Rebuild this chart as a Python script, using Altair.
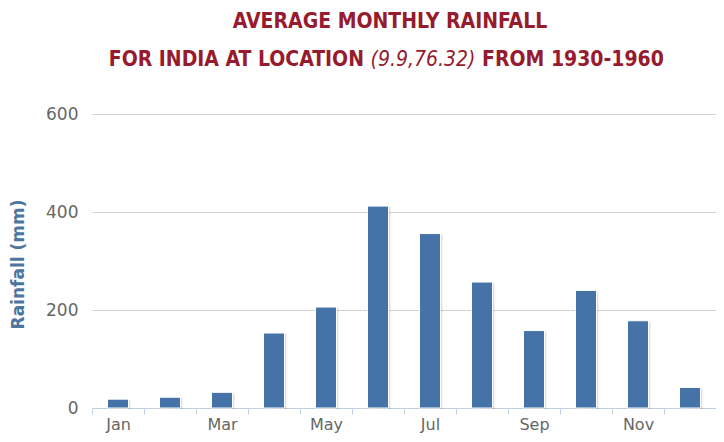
import altair as alt
import pandas as pd

months = ["Jan", "Feb", "Mar", "Apr", "May", "Jun", "Jul", "Aug", "Sep", "Oct", "Nov", "Dec"]
rainfall = [18, 22, 32, 153, 206, 412, 356, 257, 158, 240, 178, 42]
y_ticks = [0, 200, 400, 600]
shown_labels = ["Jan", "Mar", "May", "Jul", "Sep", "Nov"]

title_line1 = "AVERAGE MONTHLY RAINFALL"
title_line2_a = "FOR INDIA AT LOCATION"
title_line2_b = "(9.9,76.32)"
title_line2_c = "FROM 1930-1960"

df = pd.DataFrame({"month": months, "rain": rainfall})

W, H = 624, 294
TITLE_COLOR = "#971A2E"
TFONT = "DejaVu Sans Condensed, Roboto Condensed, Liberation Sans Narrow, Roboto"

x_enc = alt.X(
    "month:N", sort=months, title=None,
    scale=alt.Scale(paddingInner=0, paddingOuter=0),
    axis=alt.Axis(
        tickBand="extent", labelAngle=0,
        labelExpr="indexof(" + str(shown_labels) + ", datum.value) >= 0 ? datum.label : ''",
        domainColor="#C0D0E0", tickColor="#C0D0E0", tickSize=6,
        labelColor="#666666", labelFont="DejaVu Sans", labelFontSize=16,
        labelPadding=2, grid=False,
    ),
)
y_enc = alt.Y(
    "rain:Q", title="Rainfall (mm)",
    scale=alt.Scale(domain=[0, 600], nice=False),
    axis=alt.Axis(
        values=y_ticks, grid=True, gridColor="#D0D0D0", domain=False, ticks=False,
        labelColor="#666666", labelFont="DejaVu Sans", labelFontSize=17, labelPadding=14,
        titleColor="#4D759E", titleFont="DejaVu Sans", titleFontSize=17, titleFontWeight="bold",
        titleAngle=-90, titleX=-74, titleY=150, titleAlign="center", titleBaseline="middle",
    ),
)

shadow = alt.Chart(df).mark_bar(size=21, color="black", opacity=0.12, xOffset=2, yOffset=1).encode(
    x=x_enc, y=y_enc
)
bars = alt.Chart(df).mark_bar(size=21, color="#4572A7", stroke="white", strokeWidth=1).encode(
    x=x_enc, y=y_enc
)

tdf = pd.DataFrame({"a": [1]})
common = dict(font=TFONT, fontSize=21, color=TITLE_COLOR, baseline="middle")
t1 = alt.Chart(tdf).mark_text(
    text=title_line1, fontWeight="bold", align="center", **common
).encode(x=alt.value(298), y=alt.value(-92))
t2a = alt.Chart(tdf).mark_text(
    text=title_line2_a, fontWeight="bold", align="right", **common
).encode(x=alt.value(272), y=alt.value(-54))
t2b = alt.Chart(tdf).mark_text(
    text=title_line2_b, fontStyle="italic", fontWeight="normal", align="center", **common
).encode(x=alt.value(331), y=alt.value(-54))
t2c = alt.Chart(tdf).mark_text(
    text=title_line2_c, fontWeight="bold", align="left", **common
).encode(x=alt.value(390), y=alt.value(-54))

chart = alt.layer(shadow, bars, t1, t2a, t2b, t2c).properties(
    width=W, height=H,
    background="white",
    autosize=alt.AutoSizeParams(type="none"),
    padding={"left": 84, "top": 106, "right": 0, "bottom": 26},
).configure_view(stroke=None)

chart.save("out.html", embed_options={"renderer": "svg", "actions": False})
